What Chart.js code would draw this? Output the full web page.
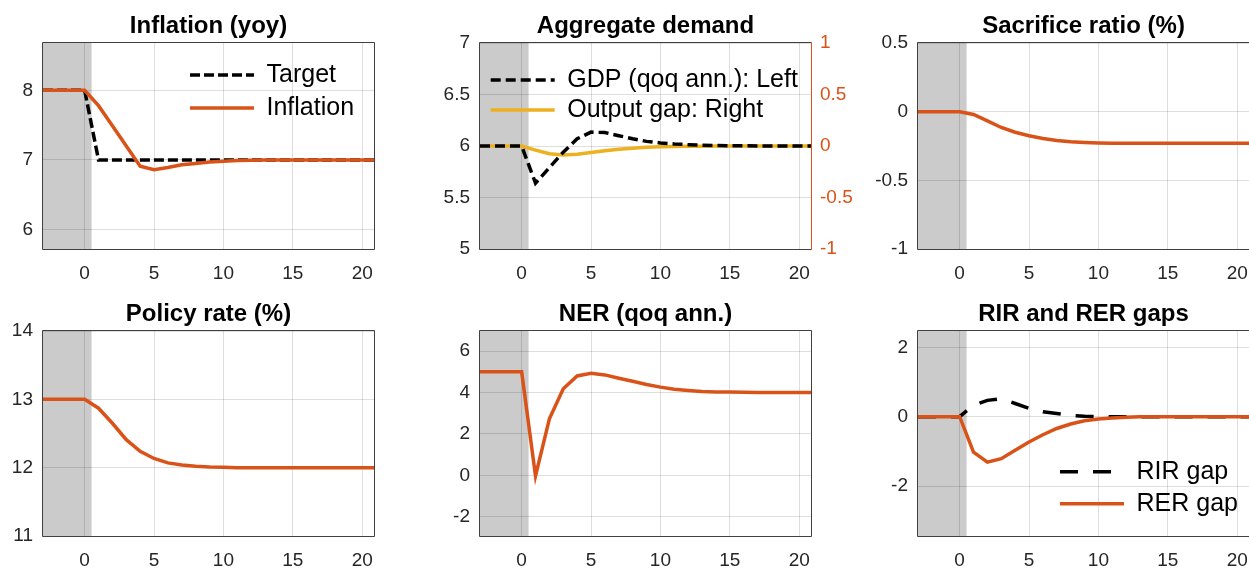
<!DOCTYPE html>
<html>
<head>
<meta charset="utf-8">
<script src="https://cdn.jsdelivr.net/npm/chart.js@4.4.1/dist/chart.umd.min.js"></script>
<style>
  html, body { margin: 0; padding: 0; background: #ffffff; width: 1249px; height: 569px; overflow: hidden; position: relative; }
  canvas { position: absolute; }
</style>
</head>
<body>
<canvas id="p1" width="431" height="284" style="left:-7px;top:0px;width:431px;height:284px"></canvas>
<canvas id="p2" width="431" height="284" style="left:430px;top:0px;width:431px;height:284px"></canvas>
<canvas id="p3" width="431" height="284" style="left:868px;top:0px;width:431px;height:284px"></canvas>
<canvas id="p4" width="431" height="283" style="left:-7px;top:288px;width:431px;height:283px"></canvas>
<canvas id="p5" width="431" height="283" style="left:430px;top:288px;width:431px;height:283px"></canvas>
<canvas id="p6" width="431" height="283" style="left:868px;top:288px;width:431px;height:283px"></canvas>
<script>
// ---------------- data ----------------
const periods = [-3,-2,-1,0,1,2,3,4,5,6,7,8,9,10,11,12,13,14,15,16,17,18,19,20,21];
const xTicks = [0,5,10,15,20];
const xMin = -3, xMax = 20.85;
const shadeFrom = -3, shadeTo = 0.5;

const inflationTarget = [8,8,8,8,7,7,7,7,7,7,7,7,7,7,7,7,7,7,7,7,7,7,7,7,7];
const inflation = [8,8,8,8,7.78,7.49,7.2,6.91,6.86,6.89,6.93,6.95,6.97,6.98,6.99,6.995,7,7,7,7,7,7,7,7,7];
const inflationTicks = [6,7,8];

const gdp = [6,6,6,6,5.64,5.79,5.94,6.07,6.135,6.13,6.1,6.07,6.045,6.03,6.02,6.013,6.008,6.005,6.003,6.002,6.001,6,6,6,6];
const outputGap = [0,0,0,0,-0.04,-0.075,-0.088,-0.08,-0.064,-0.047,-0.032,-0.021,-0.013,-0.008,-0.005,-0.003,-0.002,-0.001,0,0,0,0,0,0,0];
const gdpTicks = [5,5.5,6,6.5,7];
const gapTicks = [-1,-0.5,0,0.5,1];

const sacrifice = [0,0,0,0,-0.02,-0.067,-0.115,-0.15,-0.175,-0.195,-0.21,-0.219,-0.224,-0.228,-0.23,-0.23,-0.23,-0.23,-0.23,-0.23,-0.23,-0.23,-0.23,-0.23,-0.23];
const sacrificeTicks = [-1,-0.5,0,0.5];

const policyRate = [13,13,13,13,12.87,12.65,12.41,12.24,12.135,12.07,12.04,12.02,12.01,12.005,12,12,12,12,12,12,12,12,12,12,12];
const policyTicks = [11,12,13,14];

const ner = [5,5,5,5,-0.03,2.73,4.18,4.8,4.93,4.85,4.69,4.54,4.39,4.26,4.16,4.1,4.05,4.03,4.02,4.01,4,4,4,4,4];
const nerTicks = [-2,0,2,4,6];

const rirGap = [0,0,0,0,0.33,0.47,0.52,0.38,0.24,0.14,0.09,0.035,0.01,0,0,0,0,0,0,0,0,0,0,0,0];
const rerGap = [0,0,0,0,-1.02,-1.31,-1.21,-0.97,-0.73,-0.52,-0.34,-0.21,-0.12,-0.07,-0.035,-0.015,-0.005,0,0,0,0,0,0,0,0];
const gapsTicks = [-2,0,2];

// ---------------- styling ----------------
const ORANGE = '#D95319', YELLOW = '#EDB120', BLACK = '#000000';
const GRID = 'rgba(0,0,0,0.13)';
const TICK = '#262626';
const FRAME = '#404040';
const SHADE = '#cbcbcb';
const LW = 3.5;
Chart.defaults.font.family = '"Liberation Sans", Arial, Helvetica, sans-serif';
Chart.defaults.color = TICK;

const pts = vals => periods.map((p, i) => ({ x: p, y: vals[i] }));
const fixTicks = arr => scale => { scale.ticks = arr.map(v => ({ value: v })); };

function line(label, vals, color, dash, order, axis) {
  return {
    label: label, data: pts(vals), borderColor: color, backgroundColor: color,
    borderWidth: LW, borderDash: dash || [], pointRadius: 0, pointHoverRadius: 0,
    fill: false, tension: 0, clip: 0, order: order || 0, yAxisID: axis || 'y'
  };
}

function makePanel(id, conf) {
  const legendFont = 25;
  const scales = {
    x: {
      type: 'linear', min: xMin, max: xMax, afterBuildTicks: fixTicks(xTicks),
      ticks: { autoSkip: false, maxRotation: 0, padding: 13, font: { size: 19 }, color: TICK, callback: v => String(v) },
      grid: { color: GRID, drawTicks: false, lineWidth: 1 }, border: { display: false },
      afterFit: s => { s.height = 35; }
    },
    y: {
      type: 'linear', position: 'left', min: conf.yMin, max: conf.yMax, afterBuildTicks: fixTicks(conf.yTicks),
      ticks: { autoSkip: false, padding: 10, font: { size: 19 }, color: TICK, callback: v => String(v) },
      grid: { color: GRID, drawTicks: false, lineWidth: 1 }, border: { display: false },
      afterFit: s => { s.width = 50; }
    }
  };
  if (conf.right) {
    scales.y2 = {
      type: 'linear', position: 'right', min: conf.right.min, max: conf.right.max, afterBuildTicks: fixTicks(conf.right.ticks),
      ticks: { autoSkip: false, padding: 9, font: { size: 19 }, color: ORANGE, callback: v => String(v) },
      grid: { display: false, drawOnChartArea: false, drawTicks: false }, border: { display: false },
      afterFit: s => { s.width = 50; }
    };
  }

  const shadePlugin = {
    id: 'shade_' + id,
    beforeDraw(chart) {
      const xs = chart.scales.x, a = chart.chartArea, ctx = chart.ctx;
      const x0 = Math.max(a.left, xs.getPixelForValue(shadeFrom));
      const x1 = xs.getPixelForValue(shadeTo);
      ctx.save();
      ctx.fillStyle = SHADE;
      ctx.fillRect(x0, a.top, x1 - x0, a.bottom - a.top);
      ctx.restore();
    }
  };
  const framePlugin = {
    id: 'frame_' + id,
    afterDraw(chart) {
      const a = chart.chartArea, ctx = chart.ctx;
      const l = a.left - 0.5, r = a.right + 0.5, t = a.top - 0.5, b = a.bottom + 0.5;
      ctx.save();
      ctx.lineWidth = 1;
      ctx.strokeStyle = FRAME;
      ctx.beginPath();
      ctx.moveTo(r, t); ctx.lineTo(l, t); ctx.lineTo(l, b); ctx.lineTo(r, b);
      if (!conf.right) ctx.lineTo(r, t);
      ctx.stroke();
      if (conf.right) {
        ctx.strokeStyle = ORANGE;
        ctx.beginPath(); ctx.moveTo(r, t); ctx.lineTo(r, b); ctx.stroke();
      }
      ctx.restore();
    }
  };
  const legendPlace = {
    id: 'legplace_' + id,
    afterLayout(chart) {
      if (!conf.legend) return;
      const lg = chart.legend, a = chart.chartArea;
      const pad = conf.legend.padding;
      lg.left = a.left + conf.legend.dx - pad;
      lg.top = a.top + conf.legend.dy - pad - legendFont / 2;
      lg.right = lg.left + 1000;
      lg.bottom = lg.top + 1000;
    }
  };

  return new Chart(document.getElementById(id), {
    type: 'line',
    data: { datasets: conf.datasets },
    options: {
      responsive: false, animation: false, devicePixelRatio: 1, events: [],
      layout: { padding: { left: 0, top: 0, bottom: 0, right: conf.right ? 0 : 50 } },
      scales: scales,
      plugins: {
        tooltip: { enabled: false },
        title: {
          display: true, text: conf.title, fullSize: false, color: '#000000',
          font: { size: 24, weight: 'bold', lineHeight: 1.2 },
          padding: { top: 11.6, bottom: 2.6 }
        },
        legend: {
          display: !!conf.legend, position: 'chartArea', align: 'start',
          labels: {
            usePointStyle: true, pointStyle: 'line', pointStyleWidth: 64,
            font: { size: legendFont }, color: '#000000',
            padding: conf.legend ? conf.legend.padding : 10,
            generateLabels(chart) {
              return chart.data.datasets.map((ds, i) => ({
                text: ds.label, fillStyle: ds.borderColor, strokeStyle: ds.borderColor,
                lineWidth: ds.borderWidth, lineDash: ds.borderDash, lineCap: 'butt',
                pointStyle: 'line', hidden: false, datasetIndex: i, fontColor: '#000000'
              }));
            }
          }
        }
      }
    },
    plugins: [shadePlugin, legendPlace, framePlugin]
  });
}

makePanel('p1', {
  title: 'Inflation (yoy)', yMin: 5.72, yMax: 8.68, yTicks: inflationTicks,
  datasets: [
    line('Target', inflationTarget, BLACK, [10, 4], 1),
    line('Inflation', inflation, ORANGE, [], 0)
  ],
  legend: { dx: 147, dy: 32, padding: 8 }
});

makePanel('p2', {
  title: 'Aggregate demand', yMin: 5, yMax: 7, yTicks: gdpTicks,
  right: { min: -1, max: 1, ticks: gapTicks },
  datasets: [
    line('GDP (qoq ann.): Left', gdp, BLACK, [10, 5], 0, 'y'),
    line('Output gap: Right', outputGap, YELLOW, [], 1, 'y2')
  ],
  legend: { dx: 10.7, dy: 37, padding: 5 }
});

makePanel('p3', {
  title: 'Sacrifice ratio (%)', yMin: -1, yMax: 0.5, yTicks: sacrificeTicks,
  datasets: [ line('Sacrifice ratio', sacrifice, ORANGE, [], 0) ]
});

makePanel('p4', {
  title: 'Policy rate (%)', yMin: 11, yMax: 14, yTicks: policyTicks,
  datasets: [ line('Policy rate', policyRate, ORANGE, [], 0) ]
});

makePanel('p5', {
  title: 'NER (qoq ann.)', yMin: -2.93, yMax: 6.97, yTicks: nerTicks,
  datasets: [ line('NER', ner, ORANGE, [], 0) ]
});

makePanel('p6', {
  title: 'RIR and RER gaps', yMin: -3.44, yMax: 2.47, yTicks: gapsTicks,
  datasets: [
    line('RIR gap', rirGap, BLACK, [18, 15], 1),
    line('RER gap', rerGap, ORANGE, [], 0)
  ],
  legend: { dx: 142, dy: 140.7, padding: 7 }
});
</script>
</body>
</html>
